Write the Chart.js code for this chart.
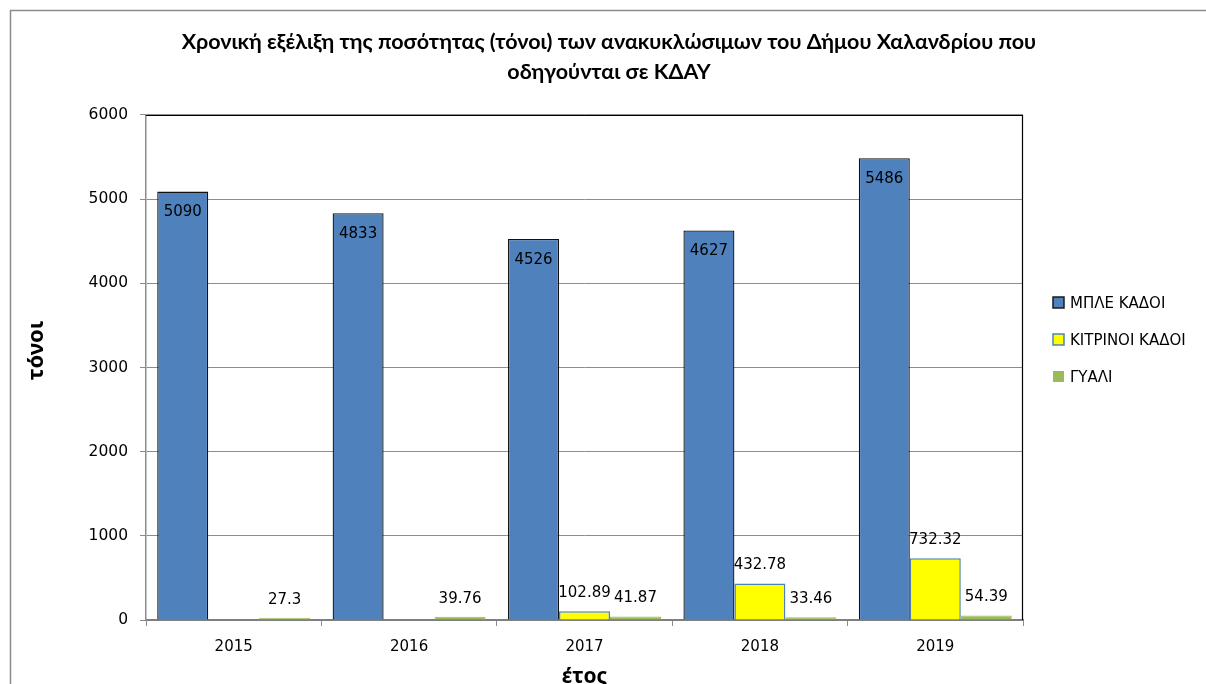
<!DOCTYPE html>
<html>
<head>
<meta charset="utf-8">
<script src="https://cdn.jsdelivr.net/npm/chart.js@4"></script>
<style>
  html, body { margin: 0; padding: 0; background: #fff; }
  #wrap { width: 1206px; height: 684px; }
</style>
</head>
<body>
<div id="wrap"><canvas id="chart"></canvas></div>
<script>
const years = ['2015', '2016', '2017', '2018', '2019'];
const blueBins = [5090, 4833, 4526, 4627, 5486];
const yellowBins = [null, null, 102.89, 432.78, 732.32];
const glass = [27.3, 39.76, 41.87, 33.46, 54.39];
const seriesNames = ['ΜΠΛΕ ΚΑΔΟΙ', 'ΚΙΤΡΙΝΟΙ ΚΑΔΟΙ', 'ΓΥΑΛΙ'];

const numFont = '15px "DejaVu Sans"';

// outer frame + black top/right of the plot area
const frame = {
  id: 'frame',
  beforeDraw(chart) {
    const { ctx } = chart;
    ctx.save();
    ctx.strokeStyle = '#8c8c8c';
    ctx.lineWidth = 1.5;
    ctx.beginPath();
    ctx.moveTo(10.5, 690);
    ctx.lineTo(10.5, 10.5);
    ctx.lineTo(1210, 10.5);
    ctx.stroke();
    ctx.restore();
  },
  afterDatasetsDraw(chart) {
    const { ctx, chartArea: { left, right, top, bottom } } = chart;
    ctx.save();
    ctx.strokeStyle = '#000';
    ctx.lineWidth = 1.2;
    ctx.beginPath();
    ctx.moveTo(left, top + 0.5);
    ctx.lineTo(right - 0.5, top + 0.5);
    ctx.lineTo(right - 0.5, bottom);
    ctx.stroke();
    ctx.restore();
  },
};

// value labels: blue inside the bar top, others above
const valueLabels = {
  id: 'valueLabels',
  afterDatasetsDraw(chart) {
    const { ctx } = chart;
    ctx.save();
    ctx.font = numFont;
    ctx.fillStyle = '#000';
    ctx.textAlign = 'center';
    ctx.textBaseline = 'middle';
    chart.data.datasets.forEach((ds, i) => {
      chart.getDatasetMeta(i).data.forEach((bar, j) => {
        const v = ds.data[j];
        if (v === null || v === undefined) return;
        const y = i === 0 ? bar.y + 21 : bar.y - 18;
        ctx.fillText(String(v), bar.x, y);
      });
    });
    ctx.restore();
  },
};

// legend on the right, drawn by hand
const sideLegend = {
  id: 'sideLegend',
  afterDraw(chart) {
    const { ctx } = chart;
    ctx.save();
    ctx.font = '15px "DejaVu Sans"';
    ctx.textBaseline = 'middle';
    chart.data.datasets.forEach((ds, i) => {
      const y = 303 + i * 37;
      ctx.fillStyle = ds.backgroundColor;
      ctx.fillRect(1053, y - 6, 11, 11);
      if (i < 2) {
        ctx.strokeStyle = i === 0 ? '#1a1a1a' : ds.borderColor;
        ctx.lineWidth = 1.5;
        ctx.strokeRect(1053, y - 6, 11, 11);
      }
      ctx.fillStyle = '#000';
      ctx.fillText(ds.label, 1070, y + 1);
    });
    ctx.restore();
  },
};

const config = {
  type: 'bar',
  data: {
    labels: years,
    datasets: [
      {
        label: seriesNames[0],
        data: blueBins,
        backgroundColor: '#4f81bd',
        borderColor: '#111',
        borderWidth: 1.3,
      },
      {
        label: seriesNames[1],
        data: yellowBins,
        backgroundColor: '#ffff00',
        borderColor: '#4f81bd',
        borderWidth: 1.5,
      },
      {
        label: seriesNames[2],
        data: glass,
        backgroundColor: '#9bbb59',
        borderColor: '#9bbb59',
        borderWidth: 1,
      },
    ],
  },
  options: {
    responsive: true,
    maintainAspectRatio: false,
    animation: false,
    categoryPercentage: 0.872,
    barPercentage: 1,
    layout: { padding: { left: 12, right: 0, top: 0, bottom: 0 } },
    scales: {
      x: {
        grid: {
          drawOnChartArea: false,
          drawTicks: true,
          tickLength: 6,
          offset: true,
          color: '#8c8c8c',
          tickColor: '#8c8c8c',
        },
        border: { color: '#7f7f7f', width: 2 },
        ticks: { color: '#000', font: { family: 'DejaVu Sans', size: 15 }, padding: 12 },
        title: {
          display: true,
          text: 'έτος',
          color: '#000',
          font: { family: 'Noto Sans', size: 21, weight: 'bold', lineHeight: 1 },
          padding: { top: 0, bottom: -4 },
        },
        afterFit(scale) { scale.height = 64; },
      },
      y: {
        min: 0,
        max: 6000,
        ticks: {
          stepSize: 1000,
          color: '#000',
          font: { family: 'DejaVu Sans', size: 15.5 },
          padding: 12,
          callback: (v) => String(v),
        },
        grid: { color: '#8c8c8c', tickLength: 6, tickColor: '#8c8c8c' },
        border: { color: '#8c8c8c', width: 1.5 },
        title: {
          display: true,
          text: '      τόνοι',
          color: '#000',
          font: { family: 'Noto Sans', size: 22, weight: 'bold', lineHeight: 1.2 },
          padding: { top: 12, bottom: 0 },
        },
        afterFit(scale) { scale.width = 134; },
      },
      // empty space on the right that holds the legend
      legendSpace: {
        position: 'right',
        ticks: { display: false },
        grid: { display: false },
        border: { display: false },
        afterFit(scale) { scale.width = 183; },
      },
    },
    plugins: {
      legend: { display: false },
      tooltip: { enabled: false },
      title: {
        display: true,
        text: [
          'Χρονική εξέλιξη της ποσότητας (τόνοι) των ανακυκλώσιμων του Δήμου Χαλανδρίου που',
          'οδηγούνται σε ΚΔΑΥ',
        ],
        color: '#000',
        font: { family: 'Lato', size: 21.5, weight: 'bold', lineHeight: 1.395 },
        padding: { top: 27, bottom: 28 },
      },
    },
  },
  plugins: [frame, valueLabels, sideLegend],
};

new Chart(document.getElementById('chart'), config);
</script>
</body>
</html>
